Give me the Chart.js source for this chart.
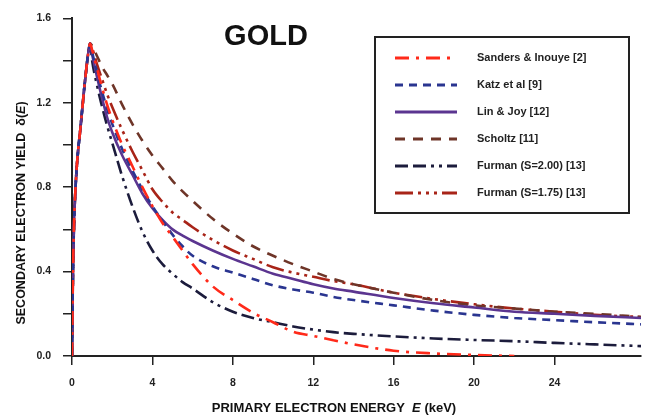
<!DOCTYPE html>
<html>
<head>
<meta charset="utf-8">
<script src="https://cdn.jsdelivr.net/npm/chart.js@4/dist/chart.umd.min.js"></script>
<style>
  html, body { margin: 0; padding: 0; background: #fff; }
  #wrap { width: 645px; height: 419px; }
</style>
</head>
<body>
<div id="wrap"><canvas id="myChart" width="645" height="419"></canvas></div>
<script>
// primary electron energy (keV)
const energy = [0, 0.05, 0.1, 0.2, 0.3, 0.4, 0.5, 0.6, 0.7, 0.8, 0.9, 1.0, 1.25, 1.5, 1.75, 2, 2.5, 3, 3.5, 4, 4.5, 5, 5.5, 6, 7, 8, 9, 10, 11, 12, 13, 14, 16, 18, 20, 22, 24, 26, 28.3];

const sanders  = [0, 0.40, 0.62, 0.84, 0.97, 1.06, 1.16, 1.26, 1.35, 1.43, 1.48, 1.45, 1.36, 1.27, 1.19, 1.12, 1.00, 0.90, 0.80, 0.71, 0.63, 0.565, 0.50, 0.435, 0.33, 0.265, 0.205, 0.16, 0.115, 0.095, 0.075, 0.055, 0.025, 0.012, 0.005, 0, null, null, null];
const katz     = [0, 0.40, 0.62, 0.84, 0.97, 1.06, 1.16, 1.26, 1.35, 1.43, 1.48, 1.44, 1.34, 1.25, 1.17, 1.10, 0.98, 0.88, 0.79, 0.71, 0.64, 0.575, 0.52, 0.475, 0.425, 0.395, 0.365, 0.335, 0.315, 0.30, 0.28, 0.265, 0.24, 0.215, 0.195, 0.18, 0.17, 0.16, 0.15];
const linJoy   = [0, 0.40, 0.62, 0.84, 0.97, 1.06, 1.16, 1.26, 1.35, 1.43, 1.48, 1.43, 1.32, 1.22, 1.13, 1.06, 0.95, 0.86, 0.77, 0.70, 0.645, 0.60, 0.57, 0.545, 0.50, 0.46, 0.425, 0.39, 0.365, 0.34, 0.32, 0.305, 0.275, 0.25, 0.23, 0.21, 0.20, 0.19, 0.18];
const scholtz  = [0, 0.40, 0.62, 0.84, 0.97, 1.06, 1.16, 1.26, 1.35, 1.43, 1.48, 1.47, 1.42, 1.37, 1.33, 1.29, 1.19, 1.10, 1.02, 0.95, 0.89, 0.83, 0.78, 0.735, 0.65, 0.58, 0.52, 0.475, 0.435, 0.40, 0.365, 0.34, 0.30, 0.265, 0.24, 0.225, 0.21, 0.20, 0.185];
const furman200 = [0, 0.40, 0.62, 0.84, 0.97, 1.06, 1.16, 1.26, 1.35, 1.43, 1.48, 1.40, 1.28, 1.18, 1.09, 1.01, 0.85, 0.71, 0.59, 0.50, 0.435, 0.39, 0.35, 0.32, 0.255, 0.21, 0.18, 0.16, 0.14, 0.125, 0.113, 0.105, 0.093, 0.083, 0.076, 0.07, 0.062, 0.055, 0.047];
const furman175 = [0, 0.40, 0.62, 0.84, 0.97, 1.06, 1.16, 1.26, 1.35, 1.43, 1.48, 1.46, 1.38, 1.31, 1.24, 1.18, 1.07, 0.97, 0.88, 0.79, 0.73, 0.68, 0.645, 0.61, 0.55, 0.50, 0.46, 0.42, 0.395, 0.375, 0.355, 0.34, 0.30, 0.27, 0.245, 0.225, 0.21, 0.195, 0.185];

const seriesNames = ['Sanders & Inouye [2]', 'Katz et al [9]', 'Lin & Joy [12]', 'Scholtz [11]', 'Furman (S=2.00) [13]', 'Furman (S=1.75) [13]'];
const xTicks = [0, 4, 8, 12, 16, 20, 24];
const yTicks = [0.0, 0.4, 0.8, 1.2, 1.6];

const FONT = '"Liberation Sans", Arial, sans-serif';

const toPoints = (vals) => energy.map((e, i) => ({ x: e, y: vals[i] }));

const makeSet = (label, vals, color, dash) => ({
    label: label,
    data: toPoints(vals),
    borderColor: color,
    backgroundColor: color,
    borderWidth: 2.6,
    borderDash: dash,
    pointRadius: 0,
    cubicInterpolationMode: 'monotone',
    spanGaps: false
});

// titles and boxed legend drawn on the canvas
const extras = {
    id: 'extras',
    afterDraw(chart) {
        const ctx = chart.ctx;
        ctx.save();
        ctx.fillStyle = '#111';
        ctx.textAlign = 'center';
        ctx.textBaseline = 'middle';
        ctx.font = 'bold 29px ' + FONT;
        ctx.fillText('GOLD', 266, 37);

        // x title
        const a = 'PRIMARY ELECTRON ENERGY  ';
        const b = 'E';
        const c = ' (keV)';
        ctx.font = 'bold 13px ' + FONT;
        const wa = ctx.measureText(a).width, wc = ctx.measureText(c).width;
        ctx.font = 'italic bold 13px ' + FONT;
        const wb = ctx.measureText(b).width;
        let x0 = 334 - (wa + wb + wc) / 2;
        ctx.textAlign = 'left';
        ctx.font = 'bold 13px ' + FONT;
        ctx.fillText(a, x0, 408);
        ctx.font = 'italic bold 13px ' + FONT;
        ctx.fillText(b, x0 + wa, 408);
        ctx.font = 'bold 13px ' + FONT;
        ctx.fillText(c, x0 + wa + wb, 408);

        // y title
        ctx.translate(22, 213);
        ctx.rotate(-Math.PI / 2);
        const ya = 'SECONDARY ELECTRON YIELD  \u03B4(';
        const yb = 'E';
        const yc = ')';
        ctx.font = 'bold 12.5px ' + FONT;
        const wya = ctx.measureText(ya).width, wyc = ctx.measureText(yc).width;
        ctx.font = 'italic bold 12.5px ' + FONT;
        const wyb = ctx.measureText(yb).width;
        let y0 = -(wya + wyb + wyc) / 2;
        ctx.font = 'bold 12.5px ' + FONT;
        ctx.fillText(ya, y0, 0);
        ctx.font = 'italic bold 12.5px ' + FONT;
        ctx.fillText(yb, y0 + wya, 0);
        ctx.font = 'bold 12.5px ' + FONT;
        ctx.fillText(yc, y0 + wya + wyb, 0);
        ctx.restore();

        // legend box
        ctx.save();
        ctx.fillStyle = '#fff';
        ctx.fillRect(375, 37, 254, 176);
        ctx.strokeStyle = '#222';
        ctx.lineWidth = 2;
        ctx.strokeRect(375, 37, 254, 176);
        chart.data.datasets.forEach((ds, i) => {
            const y = 58 + i * 27;
            ctx.beginPath();
            ctx.setLineDash(ds.borderDash || []);
            ctx.strokeStyle = ds.borderColor;
            ctx.lineWidth = 3;
            ctx.moveTo(395, y);
            ctx.lineTo(457, y);
            ctx.stroke();
            ctx.setLineDash([]);
            ctx.fillStyle = '#222';
            ctx.font = 'bold 11px ' + FONT;
            ctx.textAlign = 'left';
            ctx.textBaseline = 'middle';
            ctx.fillText(ds.label, 477, y);
        });
        ctx.restore();
    }
};

const ctx = document.getElementById('myChart').getContext('2d');
const chart = new Chart(ctx, {
    type: 'line',
    data: {
        datasets: [
            makeSet(seriesNames[0], sanders, '#ff2a1a', [14, 7, 3, 7]),
            makeSet(seriesNames[1], katz, '#2a3590', [8, 6]),
            makeSet(seriesNames[2], linJoy, '#5b3590', []),
            makeSet(seriesNames[3], scholtz, '#6e3528', [10, 8]),
            makeSet(seriesNames[4], furman200, '#1c1c3c', [13, 5, 13, 5, 3, 5, 3, 5]),
            makeSet(seriesNames[5], furman175, '#a82418', [18, 5, 3, 5, 3, 5, 3, 5])
        ]
    },
    options: {
        responsive: false,
        animation: false,
        layout: { padding: { top: 15, right: 4, left: 0, bottom: 0 } },
        plugins: { legend: { display: false }, tooltip: { enabled: false } },
        scales: {
            x: {
                type: 'linear',
                min: 0,
                max: 28.3,
                afterBuildTicks: (scale) => {
                    scale.ticks = xTicks.map(v => ({ value: v }));
                },
                afterFit: (scale) => { scale.height = 63; },
                ticks: {
                    color: '#222',
                    font: { family: FONT, size: 10.5, weight: 'bold' },
                    padding: 12,
                    maxRotation: 0,
                    callback: (v) => String(v)
                },
                grid: { drawOnChartArea: false, drawTicks: true, tickLength: 9, color: '#222', lineWidth: 1.5 },
                border: { display: true, color: '#222', width: 2 }
            },
            y: {
                min: 0,
                max: 1.6,
                afterBuildTicks: (scale) => {
                    scale.ticks = [0, 0.2, 0.4, 0.6, 0.8, 1.0, 1.2, 1.4, 1.6].map(v => ({ value: v }));
                },
                afterFit: (scale) => { scale.width = 72; },
                ticks: {
                    color: '#222',
                    font: { family: FONT, size: 10.5, weight: 'bold' },
                    padding: 12,
                    callback: (v) => {
                        const hit = yTicks.find(t => Math.abs(t - v) < 1e-6);
                        return hit === undefined ? '' : hit.toFixed(1);
                    }
                },
                grid: { drawOnChartArea: false, drawTicks: true, tickLength: 9, color: '#222', lineWidth: 1.5 },
                border: { display: true, color: '#222', width: 2 }
            }
        }
    },
    plugins: [extras]
});
</script>
</body>
</html>
